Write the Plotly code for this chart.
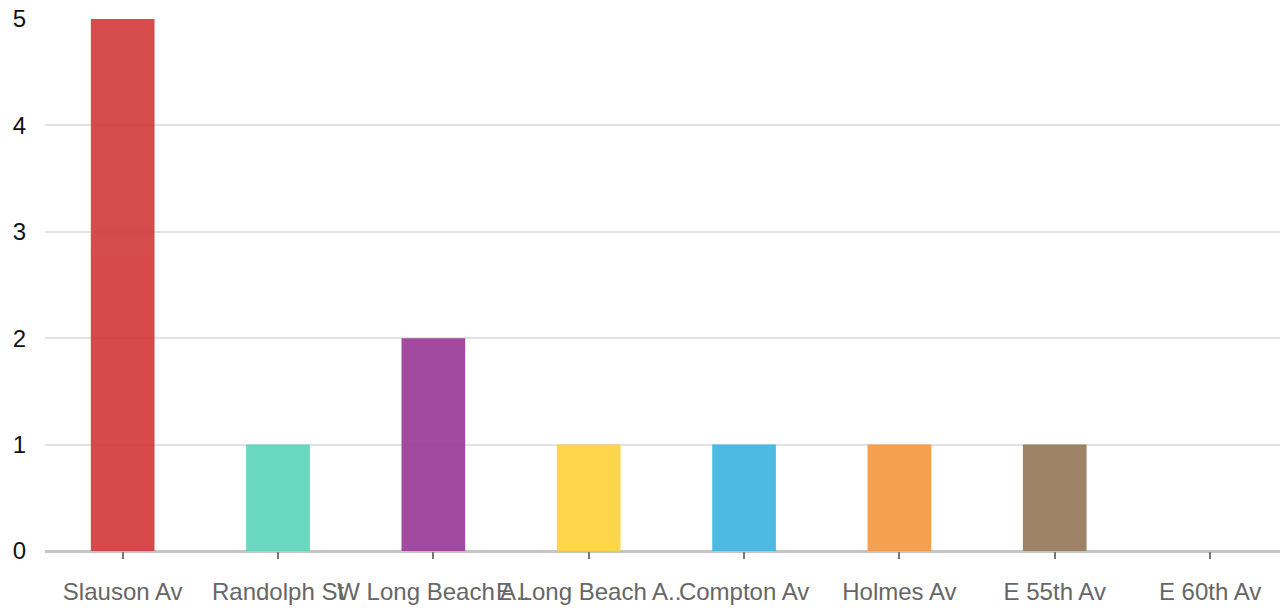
import plotly.graph_objects as go

# Street names and counts
streets = ["Slauson Av", "Randolph St", "W Long Beach A..", "E Long Beach A..",
           "Compton Av", "Holmes Av", "E 55th Av", "E 60th Av"]
counts = [5, 1, 2, 1, 1, 1, 1, 0]
bar_colors = ["#d23739", "#59d4b9", "#983795", "#ffd139",
              "#39b3e0", "#f4963b", "#957657", "#8c8c8c"]
y_ticks = [0, 1, 2, 3, 4, 5]

fig = go.Figure(
    go.Bar(
        x=streets,
        y=counts,
        marker=dict(color=bar_colors, line=dict(width=0)),
        opacity=0.9,
        width=0.41,
    )
)

fig.update_layout(
    width=1280,
    height=610,
    margin=dict(l=45, r=0, t=19, b=59),
    paper_bgcolor="white",
    plot_bgcolor="white",
    showlegend=False,
    font=dict(family="Liberation Sans, Arial, sans-serif"),
)

fig.update_xaxes(
    range=[-0.5, 7.45],
    showgrid=False,
    ticks="outside",
    ticklen=7,
    tickwidth=1.5,
    tickcolor="#777777",
    tickfont=dict(size=24, color="#666666"),
    ticklabelstandoff=12,
    showline=False,
    zeroline=False,
    tickangle=0,
)

fig.update_yaxes(
    range=[0, 5],
    tickvals=y_ticks,
    showgrid=True,
    gridcolor="#e2e2e2",
    gridwidth=2,
    zeroline=True,
    zerolinecolor="rgba(150,150,150,0.55)",
    zerolinewidth=3,
    layer="above traces",
    tickfont=dict(size=24, color="#111111"),
    ticklabelstandoff=18,
    showline=False,
)

fig.write_html("out.html")
